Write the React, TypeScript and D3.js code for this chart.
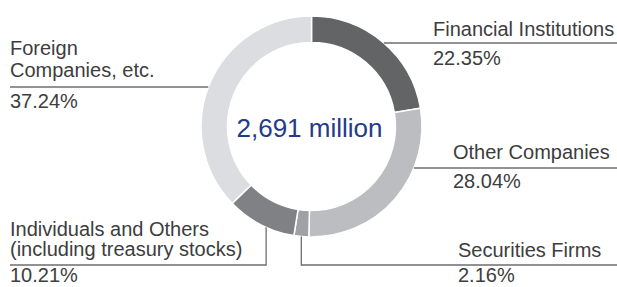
import React, { useEffect, useRef } from 'react';
import * as d3 from 'd3';

// shareholder composition
const categories = [
  'Financial Institutions',
  'Other Companies',
  'Securities Firms',
  'Individuals and Others (including treasury stocks)',
  'Foreign Companies, etc.',
];
const shares = [22.35, 28.04, 2.16, 10.21, 37.24];
const labelLines = [
  ['Financial Institutions'],
  ['Other Companies'],
  ['Securities Firms'],
  ['Individuals and Others', '(including treasury stocks)'],
  ['Foreign', 'Companies, etc.'],
];
const colors = ['#636466', '#bcbdc0', '#a0a1a4', '#808184', '#dcdde0'];
const totalLabel = '2,691 million';

// label placement (layout only)
type Layout = {
  side: 'left' | 'right';
  textX: number;
  nameBaselines: number[];
  pctBaseline: number;
  leader: { type: 'h'; y: number } | { type: 'v'; at: number; y: number };
};
const layout: Layout[] = [
  { side: 'right', textX: 433, nameBaselines: [36], pctBaseline: 65, leader: { type: 'h', y: 43 } },
  { side: 'right', textX: 453, nameBaselines: [159], pctBaseline: 188, leader: { type: 'h', y: 168 } },
  { side: 'right', textX: 458, nameBaselines: [257], pctBaseline: 282, leader: { type: 'v', at: 0.5, y: 265 } },
  { side: 'left', textX: 10, nameBaselines: [236, 256], pctBaseline: 282, leader: { type: 'v', at: 0.41, y: 265 } },
  { side: 'left', textX: 10, nameBaselines: [55, 77], pctBaseline: 108, leader: { type: 'h', y: 87 } },
];

const App: React.FC = () => {
  const svgRef = useRef<SVGSVGElement>(null);

  useEffect(() => {
    if (!svgRef.current) return;
    const width = 617;
    const height = 287;
    const cx = 311.5;
    const cy = 126.5;
    const outerR = 110.5;
    const innerR = 84;
    const font = '"Liberation Sans", Arial, Helvetica, sans-serif';
    const textColor = '#3d3d3d';
    const lineColor = '#6d6e71';

    const svg = d3.select(svgRef.current)
      .attr('width', width)
      .attr('height', height)
      .html('');

    svg.append('rect').attr('width', width).attr('height', height).attr('fill', '#fff');

    const pie = d3.pie<number>().sort(null).value(d => d);
    const arcs = pie(shares);
    const arc = d3.arc<d3.PieArcDatum<number>>().innerRadius(innerR).outerRadius(outerR);

    const g = svg.append('g').attr('transform', `translate(${cx},${cy})`);
    g.selectAll('path')
      .data(arcs)
      .join('path')
      .attr('d', arc)
      .attr('fill', (_, i) => colors[i])
      .attr('stroke', '#fff')
      .attr('stroke-width', 1.5);

    // centre total
    svg.append('text')
      .attr('x', cx - 2)
      .attr('y', 137)
      .attr('text-anchor', 'middle')
      .attr('font-family', font)
      .attr('font-size', 26)
      .attr('fill', '#243a8a')
      .text(totalLabel);

    // labels and leader lines
    arcs.forEach((a, i) => {
      const l = layout[i];
      const endX = l.side === 'right' ? width : l.textX;
      let pts: [number, number][];
      if (l.leader.type === 'h') {
        const dy = l.leader.y - cy;
        const dx = Math.sqrt(outerR * outerR - dy * dy);
        const sx = l.side === 'right' ? cx + dx : cx - dx;
        pts = [[sx, l.leader.y], [endX, l.leader.y]];
      } else {
        const ang = a.startAngle + (a.endAngle - a.startAngle) * l.leader.at;
        const sx = cx + outerR * Math.sin(ang);
        const sy = cy - outerR * Math.cos(ang);
        pts = [[sx, sy], [sx, l.leader.y], [endX, l.leader.y]];
      }
      svg.append('path')
        .attr('d', d3.line()(pts))
        .attr('fill', 'none')
        .attr('stroke', lineColor)
        .attr('stroke-width', 1.3);

      const t = svg.append('g')
        .attr('font-family', font)
        .attr('font-size', 20)
        .attr('fill', textColor)
        .attr('aria-label', categories[i]);
      labelLines[i].forEach((s, j) => {
        t.append('text').attr('x', l.textX).attr('y', l.nameBaselines[j]).text(s);
      });
      t.append('text')
        .attr('x', l.textX)
        .attr('y', l.pctBaseline)
        .text(`${shares[i].toFixed(2)}%`);
    });
  }, []);

  return (
    <div style={{ position: 'absolute', left: 0, top: 0, background: '#fff' }}>
      <svg ref={svgRef} style={{ display: 'block' }} />
    </div>
  );
};

export default App;
